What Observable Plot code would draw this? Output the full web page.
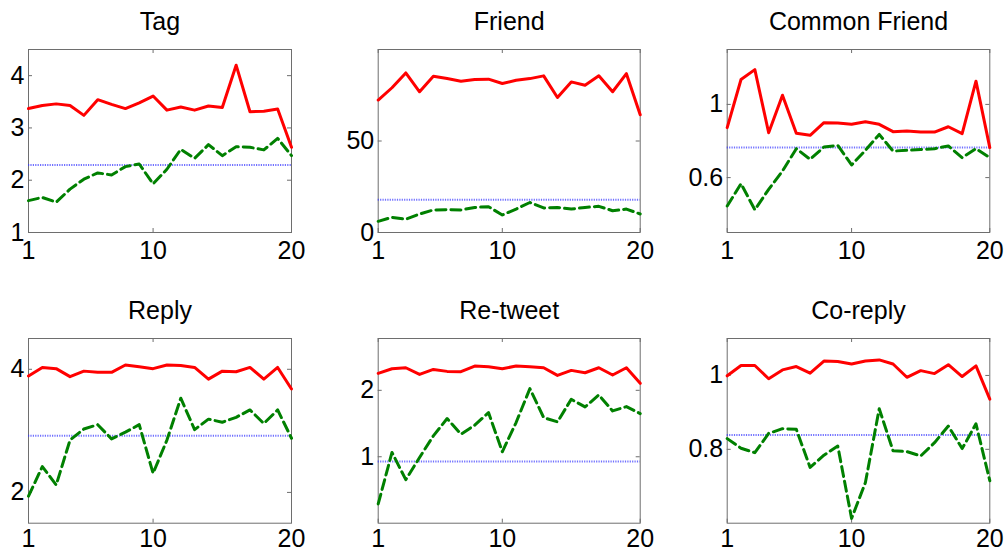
<!DOCTYPE html>
<html>
<head>
<meta charset="utf-8">
<script src="https://cdn.jsdelivr.net/npm/d3@7"></script>
<script src="https://cdn.jsdelivr.net/npm/@observablehq/plot@0.6"></script>
<style>
  html, body { margin: 0; padding: 0; background: #fff; }
  #chart { position: relative; width: 1005px; height: 552px; overflow: hidden; background: #fff; }
</style>
</head>
<body>
<div id="chart"></div>
<script>
// ---- data ----
const iterations = [1,2,3,4,5,6,7,8,9,10,11,12,13,14,15,16,17,18,19,20];
const xTicks = [1, 10, 20];

const panelTitles = ["Tag", "Friend", "Common Friend", "Reply", "Re-tweet", "Co-reply"];

const tagRed   = [3.37,3.43,3.46,3.43,3.24,3.54,3.45,3.37,3.48,3.61,3.34,3.40,3.34,3.42,3.39,4.20,3.31,3.32,3.36,2.63];
const tagGreen = [1.61,1.67,1.58,1.83,2.02,2.14,2.10,2.26,2.31,1.93,2.21,2.59,2.42,2.68,2.47,2.64,2.63,2.58,2.80,2.47];
const tagBlue  = 2.29;

const friendRed   = [72.4,79.1,87.2,76.9,85.4,84.1,82.7,83.6,83.8,81.4,83.2,84.1,85.6,73.8,82.3,80.5,85.6,76.9,86.8,64.3];
const friendGreen = [6.1,8.3,7.2,10.1,12.3,12.5,12.3,13.7,14.1,9.6,12.8,16.4,13.4,13.7,12.8,13.7,14.3,11.9,12.8,10.1];
const friendBlue  = 17.9;

const commonRed   = [0.873,1.136,1.19,0.845,1.05,0.842,0.831,0.90,0.898,0.891,0.905,0.891,0.851,0.855,0.849,0.849,0.878,0.84,1.127,0.764];
const commonGreen = [0.445,0.567,0.424,0.536,0.636,0.758,0.70,0.767,0.776,0.669,0.749,0.836,0.745,0.749,0.753,0.758,0.773,0.709,0.758,0.709];
const commonBlue  = 0.764;

const replyRed   = [3.89,4.03,4.01,3.88,3.97,3.95,3.95,4.07,4.04,4.01,4.07,4.06,4.03,3.84,3.97,3.96,4.03,3.84,4.03,3.68];
const replyGreen = [1.94,2.42,2.12,2.85,3.03,3.10,2.87,2.98,3.10,2.31,2.85,3.53,3.02,3.19,3.14,3.22,3.34,3.12,3.34,2.88];
const replyBlue  = 2.92;

const retweetRed   = [2.255,2.325,2.34,2.24,2.315,2.285,2.28,2.365,2.355,2.325,2.365,2.355,2.34,2.225,2.30,2.265,2.34,2.23,2.34,2.105];
const retweetGreen = [0.29,1.065,0.655,0.99,1.315,1.575,1.34,1.475,1.665,1.075,1.515,2.025,1.59,1.525,1.865,1.75,1.93,1.69,1.755,1.65];
const retweetBlue  = 0.93;

const coreplyRed   = [0.999,1.027,1.027,0.991,1.015,1.024,1.006,1.039,1.038,1.031,1.039,1.042,1.031,0.995,1.013,1.005,1.029,0.997,1.026,0.936];
const coreplyGreen = [0.829,0.803,0.791,0.843,0.856,0.854,0.751,0.784,0.809,0.613,0.710,0.910,0.796,0.794,0.782,0.818,0.863,0.802,0.869,0.715];
const coreplyBlue  = 0.839;

const yDomains = [[1, 4.5], [0, 100], [0.3, 1.3], [1.5, 4.5], [0, 2.78], [0.6, 1.1]];
const yTicks   = [[1, 2, 3, 4], [0, 50], [0.6, 1], [2, 4], [1, 2], [0.8, 1]];

const redSeries   = [tagRed, friendRed, commonRed, replyRed, retweetRed, coreplyRed];
const greenSeries = [tagGreen, friendGreen, commonGreen, replyGreen, retweetGreen, coreplyGreen];
const blueLevels  = [tagBlue, friendBlue, commonBlue, replyBlue, retweetBlue, coreplyBlue];

// ---- layout ----
const FONT = "'Liberation Sans', Arial, Helvetica, sans-serif";
const cellW = 335, cellH = 276;
const colMargins = [
  {left: 28, right: 44},
  {left: 42.7, right: 30.3},
  {left: 56.7, right: 15.7}
];
const rowMargins = [
  {top: 49, bottom: 44, pad: 8.5},
  {top: 62, bottom: 29.3, pad: 6}
];
const frameColor = "#6e6e6e";

const container = document.getElementById("chart");

panelTitles.forEach((title, k) => {
  const col = k % 3, row = Math.floor(k / 3);
  const cm = colMargins[col], rm = rowMargins[row];
  const innerW = cellW - cm.left - cm.right;
  const innerH = cellH - rm.top - rm.bottom;
  const rows = iterations.map((it, i) => ({it, red: redSeries[k][i], green: greenSeries[k][i]}));

  const plot = Plot.plot({
    width: cellW,
    height: cellH,
    marginLeft: cm.left,
    marginRight: cm.right,
    marginTop: rm.top,
    marginBottom: rm.bottom,
    x: {domain: [1, 20], axis: null},
    y: {domain: yDomains[k], axis: null},
    style: {
      position: "absolute",
      left: (col * cellW) + "px",
      top: (row * cellH) + "px",
      maxWidth: "none",
      background: "transparent",
      overflow: "visible",
      fontFamily: FONT,
      color: "#000"
    },
    marks: [
      Plot.frame({stroke: frameColor, strokeWidth: 1}),
      // inward ticks, bottom & top
      Plot.ruleX(xTicks, {x: d => d, stroke: frameColor, insetTop: innerH - 4}),
      Plot.ruleX(xTicks, {x: d => d, stroke: frameColor, insetBottom: innerH - 4}),
      // inward ticks, left & right
      Plot.ruleY(yTicks[k], {y: d => d, stroke: frameColor, insetRight: innerW - 4}),
      Plot.ruleY(yTicks[k], {y: d => d, stroke: frameColor, insetLeft: innerW - 4}),
      Plot.axisX(xTicks, {tickSize: 0, tickPadding: rm.pad, fontSize: 25, fill: "#000", fontFamily: FONT, label: null}),
      Plot.axisY(yTicks[k], {tickSize: 0, tickPadding: 4, fontSize: 25, fill: "#000", fontFamily: FONT, label: null,
        tickFormat: d => String(d)}),
      Plot.ruleY([blueLevels[k]], {y: d => d, stroke: "#3333ff", strokeOpacity: 0.7, strokeWidth: 2, strokeDasharray: "1.2,1.2"}),
      Plot.line(rows, {x: "it", y: "green", stroke: "#008000", strokeWidth: 3, strokeDasharray: "10,5", strokeLinejoin: "round"}),
      Plot.line(rows, {x: "it", y: "red", stroke: "#ff0000", strokeWidth: 3, strokeLinejoin: "round"}),
      Plot.text([title], {frameAnchor: "top", lineAnchor: "bottom", dy: -20, fontSize: 25, fill: "#000", fontFamily: FONT})
    ]
  });
  container.appendChild(plot);
});
</script>
</body>
</html>
